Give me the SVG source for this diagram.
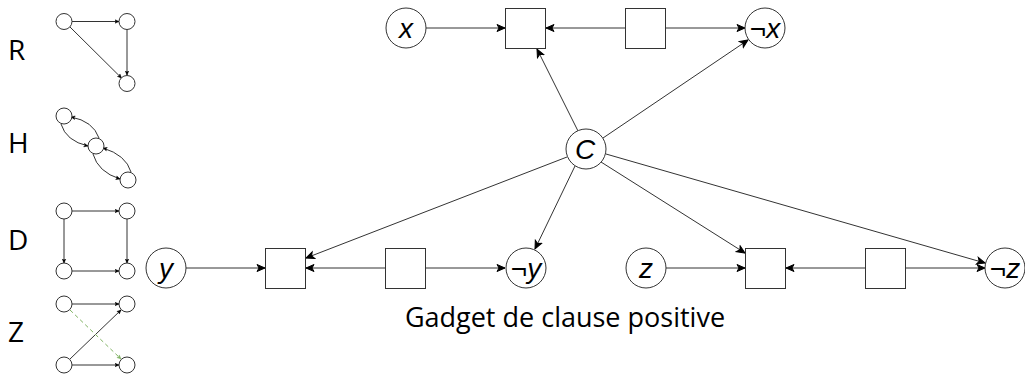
<svg xmlns="http://www.w3.org/2000/svg" width="1025" height="375" viewBox="0 0 1025 375">
<defs>
<marker id="a" viewBox="0 0 10 10" refX="9" refY="5" markerWidth="10" markerHeight="10" markerUnits="userSpaceOnUse" orient="auto">
<path d="M1,1.5 L9,5 L1,8.5 L3,5 Z" fill="#000" stroke="#000" stroke-width="1"/>
</marker>
<marker id="s" viewBox="0 0 10 10" refX="9" refY="5" markerWidth="5" markerHeight="5" markerUnits="userSpaceOnUse" orient="auto">
<path d="M1,1.5 L9,5 L1,8.5 L3,5 Z" fill="#000" stroke="#000" stroke-width="1"/>
</marker>
<marker id="g" viewBox="0 0 10 10" refX="9" refY="5" markerWidth="5" markerHeight="5" markerUnits="userSpaceOnUse" orient="auto">
<path d="M1,1.5 L9,5 L1,8.5 L3,5 Z" fill="#82b366" stroke="#82b366" stroke-width="1"/>
</marker>
</defs>
<style>
.n{fill:#fff;stroke:#333;stroke-width:1}
.e{fill:none;stroke:#333;stroke-width:1;marker-end:url(#a)}
.se{fill:none;stroke:#333;stroke-width:1;marker-end:url(#s)}
.lbl{font-family:"Open Sans","Noto Sans",sans-serif;font-size:28px;fill:#000}
.ttl{font-family:"Open Sans","Noto Sans",sans-serif;font-size:27px;fill:#000}
.v{font-family:"Liberation Sans",Arial,sans-serif;font-size:28px;font-style:italic;fill:#000}
.neg{font-style:normal}
</style>
<rect width="1025" height="375" fill="#fff"/>

<g id="connectors">
<line class="e" x1="426" y1="28" x2="505" y2="28"/>
<line class="e" x1="626" y1="28" x2="546" y2="28"/>
<line class="e" x1="666" y1="28" x2="745" y2="28"/>
<line class="e" x1="578" y1="131" x2="537" y2="49"/>
<line class="e" x1="603" y1="138" x2="748" y2="40"/>
<line class="e" x1="567" y1="157" x2="306" y2="258"/>
<line class="e" x1="575" y1="166" x2="535" y2="249"/>
<line class="e" x1="601" y1="162" x2="745" y2="253"/>
<line class="e" x1="606" y1="154" x2="985" y2="263"/>
<line class="e" x1="186" y1="268" x2="265" y2="268"/>
<line class="e" x1="386" y1="268" x2="306" y2="268"/>
<line class="e" x1="426" y1="268" x2="505" y2="268"/>
<line class="e" x1="666" y1="268" x2="745" y2="268"/>
<line class="e" x1="866" y1="268" x2="786" y2="268"/>
<line class="e" x1="906" y1="268" x2="985" y2="268"/>
</g>

<g id="node-x"><circle class="n" cx="406" cy="28" r="20"/><text class="v" x="406" y="38" text-anchor="middle">x</text></g>
<g id="node-box1"><rect class="n" x="505.5" y="8.5" width="40" height="40"/></g>
<g id="node-box2"><rect class="n" x="625.5" y="8.5" width="40" height="40"/></g>
<g id="node-notx"><circle class="n" cx="765" cy="28" r="20"/><text class="v" x="765" y="38" text-anchor="middle"><tspan class="neg">¬</tspan>x</text></g>
<g id="node-C"><circle class="n" cx="586" cy="149" r="20"/><text class="v" x="585" y="159" text-anchor="middle">C</text></g>
<g id="node-y"><circle class="n" cx="166" cy="268" r="20"/><text class="v" x="166" y="278" text-anchor="middle">y</text></g>
<g id="node-box3"><rect class="n" x="265.5" y="248.5" width="40" height="40"/></g>
<g id="node-box4"><rect class="n" x="385.5" y="248.5" width="40" height="40"/></g>
<g id="node-noty"><circle class="n" cx="526" cy="268" r="20"/><text class="v" x="526" y="278" text-anchor="middle"><tspan class="neg">¬</tspan>y</text></g>
<g id="node-z"><circle class="n" cx="646" cy="268" r="20"/><text class="v" x="646" y="278" text-anchor="middle">z</text></g>
<g id="node-box5"><rect class="n" x="745.5" y="248.5" width="40" height="40"/></g>
<g id="node-box6"><rect class="n" x="865.5" y="248.5" width="40" height="40"/></g>
<g id="node-notz"><circle class="n" cx="1005" cy="268" r="20"/><text class="v" x="1005" y="278" text-anchor="middle"><tspan class="neg">¬</tspan>z</text></g>

<g id="title"><text class="ttl" x="565" y="327" text-anchor="middle">Gadget de clause positive</text></g>

<g id="legend-R">
<text class="lbl" x="8" y="60">R</text>
<line class="se" x1="72" y1="21.5" x2="119" y2="21.5"/>
<line class="se" x1="127" y1="29.5" x2="127" y2="75"/>
<line class="se" x1="70" y1="27" x2="121.5" y2="78"/>
<circle class="n" cx="64" cy="21.5" r="8"/>
<circle class="n" cx="127" cy="21.5" r="8"/>
<circle class="n" cx="127" cy="83.5" r="8"/>
</g>
<g id="legend-H">
<text class="lbl" x="8" y="153">H</text>
<path class="se" d="M61,124 Q66,141 88,146"/>
<path class="se" d="M99,138 Q93,121 71,117"/>
<path class="se" d="M93,154 Q98,172 120,179"/>
<path class="se" d="M131,172 Q126,155 103,148"/>
<circle class="n" cx="64" cy="116" r="8"/>
<circle class="n" cx="96" cy="146" r="8"/>
<circle class="n" cx="128" cy="180" r="8"/>
</g>
<g id="legend-D">
<text class="lbl" x="8" y="250">D</text>
<line class="se" x1="72" y1="211" x2="119" y2="211"/>
<line class="se" x1="64" y1="219" x2="64" y2="263"/>
<line class="se" x1="127" y1="219" x2="127" y2="263"/>
<line class="se" x1="72" y1="271" x2="119" y2="271"/>
<circle class="n" cx="64" cy="211" r="8"/>
<circle class="n" cx="127" cy="211" r="8"/>
<circle class="n" cx="64" cy="271" r="8"/>
<circle class="n" cx="127" cy="271" r="8"/>
</g>
<g id="legend-Z">
<text class="lbl" x="8" y="342">Z</text>
<line class="se" x1="72" y1="304" x2="119" y2="304"/>
<line class="se" x1="72" y1="365" x2="119" y2="365"/>
<line class="se" x1="70" y1="359" x2="121" y2="310"/>
<line x1="70" y1="310" x2="121" y2="359" stroke="#82b366" stroke-width="1" stroke-dasharray="4 3" marker-end="url(#g)"/>
<circle class="n" cx="64" cy="304" r="8"/>
<circle class="n" cx="127" cy="304" r="8"/>
<circle class="n" cx="64" cy="365" r="8"/>
<circle class="n" cx="127" cy="365" r="8"/>
</g>
</svg>
